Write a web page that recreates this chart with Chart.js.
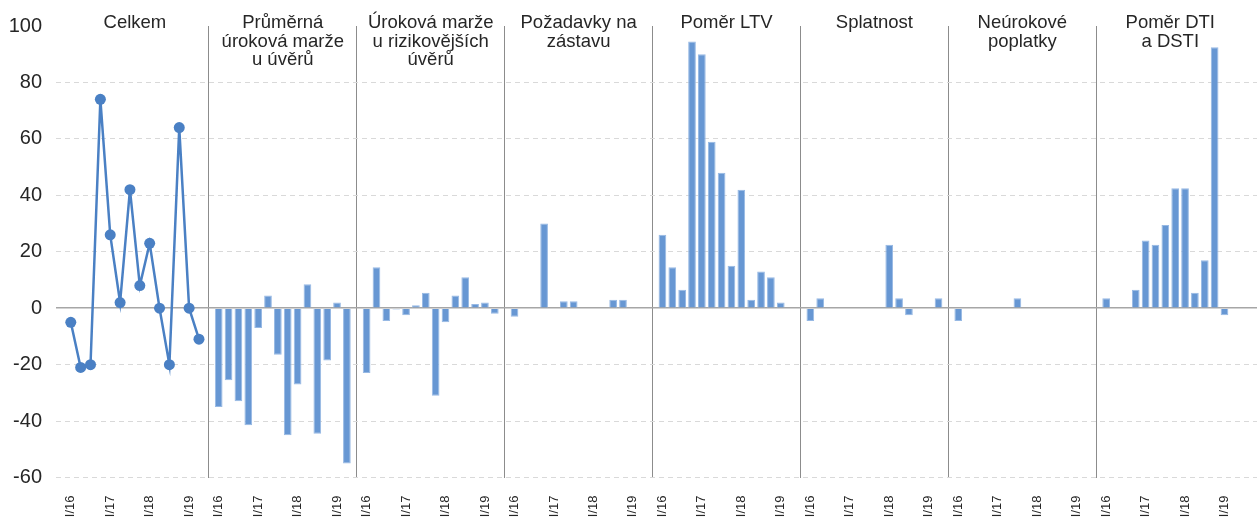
<!DOCTYPE html>
<html>
<head>
<meta charset="utf-8">
<script src="https://cdn.jsdelivr.net/npm/chart.js@4.4.1/dist/chart.umd.min.js"></script>
<style>
  html, body { margin: 0; padding: 0; background: #fff; overflow: hidden; }
  canvas { display: block; }
</style>
</head>
<body>
<!-- plot area of the original runs a couple of pixels past the right edge -->
<canvas id="c" width="1259" height="519"></canvas>
<script>
'use strict';

const quarters = ['I/16', 'II/16', 'III/16', 'IV/16', 'I/17', 'II/17', 'III/17', 'IV/17',
  'I/18', 'II/18', 'III/18', 'IV/18', 'I/19', 'II/19'];

const panelTitles = [
  ['Celkem'],
  ['Průměrná', 'úroková marže', 'u úvěrů'],
  ['Úroková marže', 'u rizikovějších', 'úvěrů'],
  ['Požadavky na', 'zástavu'],
  ['Poměr LTV'],
  ['Splatnost'],
  ['Neúrokové', 'poplatky'],
  ['Poměr DTI', 'a DSTI']
];

// first panel is a line, the other seven are bars
const celkem = [-5, -21, -20, 74, 26, 2, 42, 8, 23, 0, -20, 64, 0, -11];
const prumernaMarze = [-35, -25.5, -33, -41.5, -7, 4.5, -16.5, -45, -27, 8.5, -44.5, -18.5, 2, -55];
const rizikoveMarze = [-23, 14.5, -4.5, -0.5, -2.5, 1, 5.5, -31, -5, 4.5, 11, 1.5, 2, -2];
const zastava = [-3, null, null, 30, null, 2.5, 2.5, null, null, null, 3, 3, null, null];
const ltv = [26, 14.5, 6.5, 94.5, 90, 59, 48, 15, 42, 3, 13, 11, 2, null];
const splatnost = [-4.5, 3.5, null, null, null, null, null, null, 22.5, 3.5, -2.5, null, null, 3.5];
const neurokove = [-4.5, null, null, null, null, null, 3.5, null, null, null, null, null, null, null];
const dtiDsti = [3.5, null, null, 6.5, 24, 22.5, 29.5, 42.5, 42.5, 5.5, 17, 92.5, -2.5, null];

const barSeries = [prumernaMarze, rizikoveMarze, zastava, ltv, splatnost, neurokove, dtiDsti];

const yMin = -60;
const yMax = 100;
const yStep = 20;

const font = '"Liberation Sans", Arial, sans-serif';
const textColor = '#262626';

// one empty slot before every panel, the vertical divider sits on it
const slot = quarters.length + 1;
const labels = [];
const lineData = [];
const barData = [];
panelTitles.forEach((t, p) => {
  labels.push('');
  lineData.push(null);
  barData.push(null);
  quarters.forEach((q, i) => {
    labels.push(q);
    lineData.push(p === 0 ? celkem[i] : null);
    barData.push(p === 0 ? null : barSeries[p - 1][i]);
  });
});
// spare slots on the right end of the plot
for (let i = 0; i < 2; i++) {
  labels.push('');
  lineData.push(null);
  barData.push(null);
}
const lastPanelEnd = panelTitles.length * slot;

const panelTitlePlugin = {
  id: 'panelTitles',
  afterDraw(chart) {
    const x = chart.scales.x;
    const ctx = chart.ctx;
    ctx.save();
    ctx.font = '18.5px ' + font;
    ctx.fillStyle = textColor;
    ctx.textAlign = 'center';
    ctx.textBaseline = 'alphabetic';
    panelTitles.forEach((lines, p) => {
      const cx = (x.getPixelForValue(p * slot) + x.getPixelForValue((p + 1) * slot)) / 2;
      lines.forEach((line, i) => ctx.fillText(line, cx, 28 + i * 18.7));
    });
    ctx.restore();
  }
};

new Chart(document.getElementById('c'), {
  data: {
    labels: labels,
    datasets: [
      {
        type: 'line',
        data: lineData,
        borderColor: '#4a80c4',
        backgroundColor: '#4a80c4',
        borderWidth: 2.5,
        pointRadius: 5.5,
        pointBorderWidth: 0,
        pointBackgroundColor: '#4a80c4',
        spanGaps: false,
        order: 0
      },
      {
        type: 'bar',
        data: barData,
        backgroundColor: '#6797d3',
        borderColor: '#97b9e4',
        borderWidth: 1,
        barPercentage: 0.78,
        categoryPercentage: 1,
        order: 1
      }
    ]
  },
  options: {
    responsive: false,
    animation: false,
    layout: { autoPadding: false, padding: { top: 25, left: 0, right: 0, bottom: 0 } },
    plugins: { legend: { display: false }, tooltip: { enabled: false } },
    scales: {
      x: {
        type: 'category',
        offset: true,
        grid: {
          offset: false,
          drawTicks: false,
          lineWidth: 1,
          color: ctx => {
            const i = ctx.index;
            return (i > 0 && i < lastPanelEnd && i % slot === 0) ? '#8c8c8c' : 'rgba(0,0,0,0)';
          }
        },
        border: { display: false },
        ticks: {
          autoSkip: false,
          minRotation: 90,
          maxRotation: 90,
          padding: 18,
          color: textColor,
          font: { family: font, size: 13 },
          callback: (v, i) => (labels[i].startsWith('I/') ? labels[i] : '')
        },
        afterFit: scale => {
          scale.height = 41.5;
          scale.paddingLeft = 0;
          scale.paddingRight = 0;
        }
      },
      y: {
        min: yMin,
        max: yMax,
        ticks: {
          stepSize: yStep,
          padding: 14,
          color: textColor,
          font: { family: font, size: 20 }
        },
        grid: {
          drawTicks: false,
          color: ctx => {
            const v = ctx.tick.value;
            if (v === yMax) return 'rgba(0,0,0,0)';
            return v === 0 ? '#a6a6a6' : '#d9d9d9';
          },
          lineWidth: ctx => (ctx.tick.value === 0 ? 1.5 : 1)
        },
        border: {
          display: false,
          dash: ctx => (ctx.tick && ctx.tick.value === 0 ? [] : [5, 4])
        },
        afterFit: scale => { scale.width = 56; }
      }
    }
  },
  plugins: [panelTitlePlugin]
});
</script>
</body>
</html>
